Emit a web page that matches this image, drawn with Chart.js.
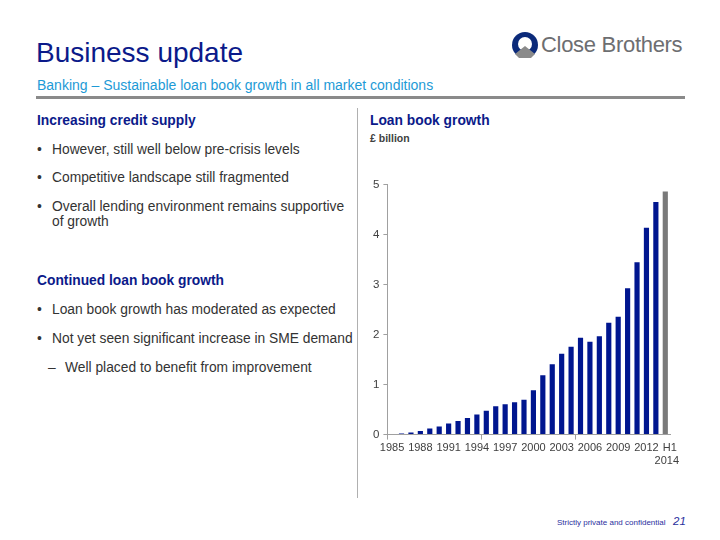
<!DOCTYPE html>
<html>
<head>
<meta charset="utf-8">
<script src="https://cdn.jsdelivr.net/npm/chart.js@4.4.1/dist/chart.umd.min.js"></script>
<style>
  html,body{margin:0;padding:0;background:#fff;}
  body{width:720px;height:540px;position:relative;overflow:hidden;font-family:"Liberation Sans",Arial,sans-serif;}
  .abs{position:absolute;white-space:nowrap;}
  #title{left:36px;top:37px;font-size:28px;color:#0b1a8a;}
  #sub{left:37px;top:77px;font-size:14px;color:#1d9ad6;}
  #rule{left:36px;top:96px;width:649px;height:3px;background:#8a8a8a;}
  #logoText{left:541px;top:32px;font-size:22px;color:#6d6e71;letter-spacing:-0.3px;}
  #vline{left:357px;top:108px;width:1px;height:390px;background:#b0b0b0;}
  .head{font-weight:bold;color:#0b1a8a;font-size:13.8px;}
  .bul{font-size:13.8px;color:#333;}
  .dot{position:absolute;left:-15px;}
  #footer{left:557px;top:518px;font-size:8px;color:#2b2f9e;}
  #pnum{left:673px;top:515px;font-size:11.5px;color:#2b2f9e;font-style:italic;}
  #chartTitle{left:370px;top:113px;font-size:13.8px;font-weight:bold;color:#0b1a8a;}
  #unit{left:370px;top:132px;font-size:10.5px;font-weight:bold;color:#404040;}
  #wrap{position:absolute;left:355px;top:174px;width:340px;height:296px;}
</style>
</head>
<body>
<div class="abs" id="title">Business update</div>
<div class="abs" id="sub">Banking – Sustainable loan book growth in all market conditions</div>
<div class="abs" id="rule"></div>
<svg class="abs" style="left:511px;top:31px;" width="28" height="28" viewBox="0 0 28 28">
  <circle cx="14" cy="14" r="13" fill="#0b2a7a"/>
  <circle cx="14" cy="13" r="7" fill="#fff"/>
  <polygon points="4,23 14,15 24,23 20,27 8,27" fill="#8a8a8a"/>
</svg>
<div class="abs" id="logoText">Close Brothers</div>
<div class="abs" id="vline"></div>

<div class="abs head" style="left:37px;top:113px;">Increasing credit supply</div>
<div class="abs bul" style="left:52px;top:142px;"><span class="dot">•</span>However, still well below pre-crisis levels</div>
<div class="abs bul" style="left:52px;top:170px;"><span class="dot">•</span>Competitive landscape still fragmented</div>
<div class="abs bul" style="left:52px;top:199px;"><span class="dot">•</span>Overall lending environment remains supportive<br>of growth</div>
<div class="abs head" style="left:37px;top:273px;">Continued loan book growth</div>
<div class="abs bul" style="left:52px;top:302px;"><span class="dot">•</span>Loan book growth has moderated as expected</div>
<div class="abs bul" style="left:52px;top:331px;"><span class="dot">•</span>Not yet seen significant increase in SME demand</div>
<div class="abs bul" style="left:65px;top:360px;"><span class="dot" style="left:-17px;">–</span>Well placed to benefit from improvement</div>

<div class="abs" id="chartTitle">Loan book growth</div>
<div class="abs" id="unit">£ billion</div>
<div id="wrap"><canvas id="c"></canvas></div>

<div class="abs" id="footer">Strictly private and confidential</div>
<div class="abs" id="pnum">21</div>

<script>
const categories = ['1985','1986','1987','1988','1989','1990','1991','1992','1993','1994','1995','1996','1997','1998','1999','2000','2001','2002','2003','2004','2005','2006','2007','2008','2009','2010','2011','2012','2013','H1 2014'];
const loanBook = [0.01,0.02,0.04,0.07,0.12,0.16,0.22,0.27,0.33,0.40,0.48,0.57,0.61,0.65,0.70,0.89,1.19,1.41,1.62,1.76,1.94,1.86,1.97,2.24,2.36,2.93,3.45,4.14,4.66,4.87];
const yTicks = [0,1,2,3,4,5];
const shownLabels = ['1985','1988','1991','1994','1997','2000','2003','2006','2009','2012','H1 2014'];

const barColors = categories.map(c => c.startsWith('H1') ? '#7a7a7a' : '#00168f');

new Chart(document.getElementById('c'), {
  type: 'bar',
  data: {
    labels: categories,
    datasets: [{
      data: loanBook,
      backgroundColor: barColors,
      borderWidth: 0,
      categoryPercentage: 1.0,
      barPercentage: 0.55
    }]
  },
  options: {
    responsive: true,
    maintainAspectRatio: false,
    animation: false,
    layout: { padding: { left: 14, right: 25, top: 8, bottom: 0 } },
    plugins: { legend: { display: false }, tooltip: { enabled: false } },
    scales: {
      x: {
        offset: true,
        grid: {
          display: true,
          offset: true,
          drawOnChartArea: false,
          drawTicks: true,
          tickLength: 5,
          color: ctx => (ctx.index % 10 === 0) ? '#a0a0a0' : 'rgba(0,0,0,0)'
        },
        border: { display: true, color: '#a0a0a0', width: 1 },
        ticks: {
          autoSkip: false,
          maxRotation: 0,
          minRotation: 0,
          padding: 2,
          color: '#404040',
          font: { family: '"Liberation Sans", Arial, sans-serif', size: 11 },
          callback: function(value, index) {
            const lab = categories[index];
            if (!shownLabels.includes(lab)) return '';
            return lab === 'H1 2014' ? ['   H1', ' 2014'] : lab;
          }
        }
      },
      y: {
        min: 0,
        max: 5,
        afterBuildTicks: axis => { axis.ticks = yTicks.map(v => ({ value: v })); },
        grid: {
          display: true,
          drawOnChartArea: false,
          drawTicks: true,
          tickLength: 4,
          color: '#a0a0a0'
        },
        border: { display: true, color: '#a0a0a0', width: 1 },
        ticks: {
          padding: 4,
          color: '#404040',
          font: { family: '"Liberation Sans", Arial, sans-serif', size: 11.5 }
        }
      }
    }
  }
});
</script>
</body>
</html>
